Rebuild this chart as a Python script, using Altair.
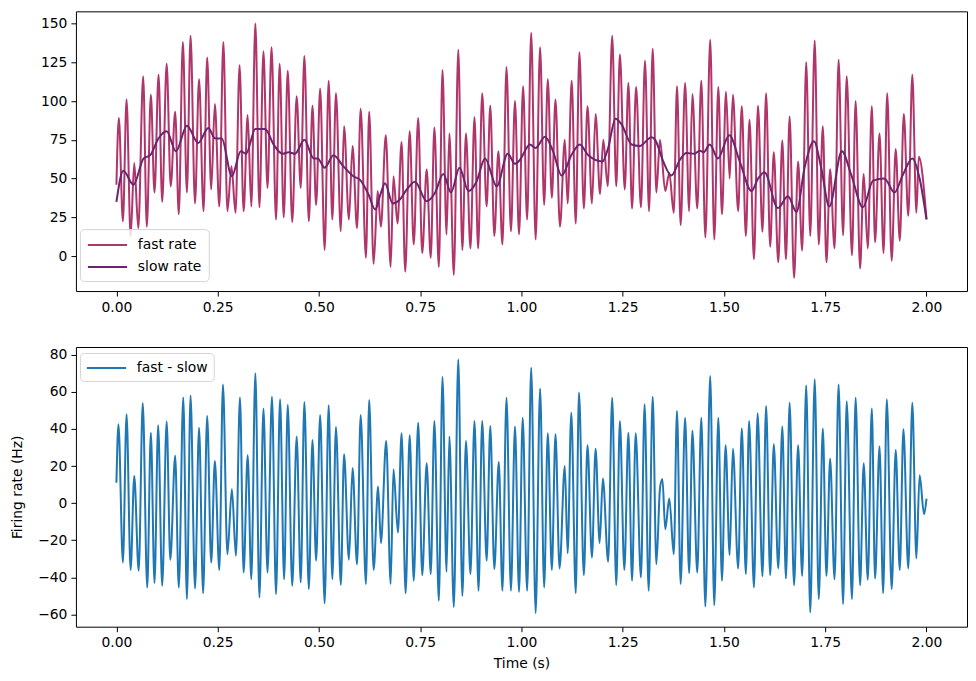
import altair as alt
import pandas as pd

# ---------------- data ----------------
fast_t = [0.000, 0.006, 0.016, 0.025, 0.035, 0.044, 0.054, 0.066, 0.075, 0.085, 0.094, 0.104, 0.113,
          0.124, 0.134, 0.145, 0.154, 0.164, 0.174, 0.183, 0.194, 0.204, 0.215, 0.224, 0.234, 0.243,
          0.254, 0.264, 0.274, 0.284, 0.294, 0.304, 0.314, 0.324,
          0.333, 0.343, 0.353, 0.363, 0.373, 0.383, 0.394, 0.403, 0.413, 0.423, 0.434, 0.445, 0.455,
          0.464, 0.475, 0.484, 0.493, 0.503, 0.514, 0.524, 0.533, 0.542, 0.554, 0.562, 0.574, 0.583,
          0.594, 0.603, 0.616, 0.624, 0.635, 0.645, 0.653, 0.665,
          0.677, 0.684, 0.694, 0.704, 0.713, 0.724, 0.734, 0.745, 0.755, 0.766, 0.776, 0.785, 0.796,
          0.805, 0.815, 0.822, 0.833, 0.844, 0.854, 0.863, 0.874, 0.884, 0.893, 0.903, 0.914, 0.923,
          0.933, 0.943, 0.953, 0.963, 0.974, 0.984, 0.994,
          1.004, 1.014, 1.024, 1.035, 1.046, 1.056, 1.065, 1.075, 1.084, 1.095, 1.107, 1.114, 1.124,
          1.134, 1.143, 1.154, 1.163, 1.174, 1.183, 1.194, 1.202, 1.213, 1.224, 1.234, 1.243, 1.255,
          1.264, 1.273, 1.283, 1.295, 1.305, 1.315, 1.324,
          1.333, 1.342, 1.355, 1.365, 1.376, 1.384, 1.393, 1.404, 1.414, 1.422, 1.434, 1.444, 1.454,
          1.466, 1.476, 1.486, 1.495, 1.505, 1.514, 1.522, 1.535, 1.544, 1.554, 1.563, 1.574, 1.584,
          1.595, 1.604, 1.614, 1.623, 1.634, 1.644, 1.653, 1.662,
          1.673, 1.683, 1.693, 1.703, 1.713, 1.724, 1.734, 1.744, 1.753, 1.762, 1.773, 1.783, 1.794,
          1.803, 1.816, 1.825, 1.836, 1.845, 1.855, 1.865, 1.873, 1.884, 1.894, 1.903, 1.914, 1.924,
          1.934, 1.944, 1.955, 1.965, 1.975, 1.981, 2.000]
fast_v = [46, 89, 22.5, 101, 13, 60, 18, 116, 19, 104, 41, 117, 35,
          124, 45, 93, 27, 138, 41, 142, 34, 114, 29, 128, 43, 98,
          32, 138, 29, 58, 28, 123, 29, 91,
          32, 150, 31.5, 132, 44, 134.6, 23.6, 124, 25, 119.5, 22, 103, 44,
          129, 22.5, 97, 33, 108, 4, 113, 23.6, 105, 16, 83.7, 23.6, 71,
          18, 95, -1, 93, -5, 42, 19, 78,
          -7, 51.5, 21, 73.6, -10, 80.5, 7.5, 89, 2, 56, -1, 83, -7,
          120, 14, 79, -12, 133, 4, 79, 5, 89.5, 5, 105, 32, 97,
          13, 67.6, 7.5, 122, 16, 100, 14,
          109.5, 23.6, 144, 10.7, 134.6, 33, 114, 37.6, 101, 19, 75, 34, 113,
          21, 131.5, 30.7, 96.6, 34, 91.6, 40, 75, 45, 142, 45, 130, 43,
          111.6, 30.7, 109, 31.5, 126, 29, 133.7,
          41, 75, 42, 53.6, 28, 109.5, 20, 111.6, 29, 104.5, 30.7, 113, 12,
          139.5, 10.7, 109, 27, 106, 50, 104, 29, 96.6, 13, 88, -2, 97,
          15.7, 105, 6, 67, -4, 74.5, -2, 90,
          -14, 61, 3.6, 125, 13, 139, 7.5, 83.7, -4, 56, 5, 126.6, 13.5,
          116, 0.6, 100, -8, 53, 5, 96.6, 9, 79, 2, 105, -3, 69,
          10, 91.6, 26, 117, 28, 64, 24]

slow_t = [0.000, 0.017, 0.042, 0.067, 0.083, 0.104, 0.124, 0.147, 0.174, 0.202, 0.227, 0.243, 0.260,
          0.285, 0.307, 0.320, 0.343, 0.367, 0.388, 0.410, 0.425, 0.441, 0.464, 0.487, 0.497, 0.514,
          0.536, 0.560, 0.585, 0.602, 0.622, 0.639, 0.652, 0.663, 0.682, 0.700, 0.717, 0.737, 0.766,
          0.787, 0.807, 0.826, 0.847, 0.869, 0.889, 0.910, 0.939, 0.966, 0.984, 0.996, 1.021, 1.035,
          1.058, 1.078, 1.099, 1.124, 1.144, 1.165, 1.200, 1.214, 1.232, 1.247, 1.272, 1.292, 1.321,
          1.330, 1.350, 1.370, 1.391, 1.407, 1.427, 1.440, 1.450, 1.465, 1.485, 1.513, 1.539, 1.568,
          1.584, 1.600, 1.633, 1.658, 1.679, 1.699, 1.722, 1.740, 1.760, 1.791, 1.814, 1.843, 1.868,
          1.896, 1.921, 1.942, 1.965, 1.983, 2.000]
slow_v = [35, 55, 46, 63, 65, 76, 80.5, 67.6, 84, 73, 82.6, 76, 75.8,
          51.5, 67.6, 66, 82, 82, 72, 66, 67, 66, 75, 63, 63, 57,
          65, 58, 51.5, 49, 40, 30, 40, 47, 34, 36.5, 43, 48, 35.4,
          41, 53, 41, 57, 42, 48, 63, 45, 66, 59.5, 62, 72, 69.7,
          77, 67.6, 52, 65.5, 72, 65, 61, 69.7, 88.6, 85, 72, 71, 76.6,
          75, 61, 52, 62, 66.5, 66, 68, 67, 72, 63, 78, 61, 42,
          50, 54, 31, 38.6, 28.5, 57, 74, 57, 32, 67.6, 52.6, 31.5, 48.7,
          50, 41, 52.6, 63, 50, 23.6]

diff_t = [0.000, 0.005, 0.016, 0.025, 0.035, 0.044, 0.055, 0.065, 0.076, 0.085, 0.094, 0.103, 0.113,
          0.124, 0.133, 0.145, 0.154, 0.165, 0.174, 0.183, 0.194, 0.204, 0.214, 0.224, 0.234, 0.243,
          0.254, 0.263, 0.274, 0.285, 0.295, 0.305, 0.314, 0.324,
          0.333, 0.343, 0.353, 0.363, 0.373, 0.384, 0.394, 0.404, 0.414, 0.423, 0.434, 0.445, 0.455,
          0.464, 0.475, 0.484, 0.493, 0.503, 0.514, 0.524, 0.533, 0.542, 0.554, 0.562, 0.574, 0.583,
          0.594, 0.603, 0.616, 0.624, 0.635, 0.646, 0.653, 0.666,
          0.677, 0.684, 0.695, 0.704, 0.714, 0.724, 0.734, 0.745, 0.755, 0.766, 0.776, 0.785, 0.796,
          0.805, 0.815, 0.822, 0.833, 0.844, 0.854, 0.863, 0.874, 0.884, 0.894, 0.903, 0.914, 0.923,
          0.933, 0.944, 0.953, 0.963, 0.974, 0.984, 0.994,
          1.003, 1.014, 1.024, 1.035, 1.046, 1.056, 1.065, 1.075, 1.084, 1.094, 1.107, 1.114, 1.123,
          1.134, 1.142, 1.154, 1.163, 1.174, 1.183, 1.193, 1.201, 1.214, 1.224, 1.234, 1.243, 1.254,
          1.264, 1.273, 1.282, 1.295, 1.304, 1.314, 1.324,
          1.333, 1.342, 1.348, 1.355, 1.365, 1.376, 1.384, 1.393, 1.404, 1.414, 1.422, 1.434, 1.444,
          1.454, 1.466, 1.476, 1.486, 1.495, 1.504, 1.514, 1.522, 1.535, 1.544, 1.554, 1.562, 1.574,
          1.583, 1.595, 1.604, 1.614, 1.623, 1.634, 1.644, 1.653, 1.662,
          1.673, 1.683, 1.693, 1.703, 1.713, 1.724, 1.734, 1.744, 1.753, 1.762, 1.773, 1.783, 1.794,
          1.803, 1.816, 1.825, 1.836, 1.845, 1.855, 1.865, 1.873, 1.884, 1.893, 1.902, 1.914, 1.924,
          1.934, 1.943, 1.955, 1.965, 1.975, 1.983, 1.994, 2.000]
diff_v = [11, 42.5, -32, 48, -36, 14.7, -36.5, 54, -45.5, 38, -43, 42, -44.5,
          44, -30.5, 25.5, -45.5, 57, -51.7, 58, -46, 40.7, -48.5, 47, -32, 22.8,
          -36, 64, -27.5, 7.5, -28.4, 57, -37.4, 25.8,
          -41, 70, -50.8, 51, -37.4, 57.4, -49, 56, -41, 53, -44.5, 36, -42.7,
          54.5, -46.3, 34, -31, 47.5, -54, 52.8, -41, 41, -44, 26.4, -30.5, 19,
          -33, 47.5, -43.6, 55.6, -36, 9, -21.5, 33.5,
          -43.6, 18.3, -15.8, 37.7, -48.5, 36.6, -41.8, 43.4, -38.8, 21.5, -38.2, 44.3, -52.6,
          68, -37, 36, -56, 77.5, -50, 33.5, -38.2, 44.3, -47.2, 44.3, -31, 41.6,
          -35.5, 22.2, -47.2, 56.9, -47.2, 41.3, -47.8,
          46, -47.2, 73, -59.2, 61.7, -45.4, 37.7, -36, 37.2, -35.2, 20, -27, 48.8,
          -48.5, 59.6, -38.8, 31.2, -29.3, 29.4, -21.5, 13.3, -31.6, 56.9, -44.2, 44.3, -36,
          38, -41.8, 37.7, -40, 53.3, -47.2, 57.4,
          -32.9, 8, 13, -14, 2.5, -27.5, 49.7, -43.6, 46, -37.7, 39, -37.4, 46,
          -55.7, 68.5, -55, 46, -41.8, 31.2, -28, 29.4, -35.2, 40.2, -38.2, 44.3, -45.4,
          48.5, -39.5, 52.4, -38.8, 31.8, -35.2, 41.3, -40.6, 54.2,
          -44.2, 31.2, -39.2, 63.5, -58.9, 66.8, -51.7, 40.2, -39.2, 24, -41, 64, -54.4,
          55, -51.7, 56.9, -44.2, 21.5, -41.3, 51, -40.6, 30.5, -48.5, 56, -46.3, 28.7,
          -36, 39.8, -35.2, 54.2, -29.8, 15, -6, 2.5]

series_top = ["fast rate", "slow rate"]
series_bottom = ["fast - slow"]
x_ticks = [0.0, 0.25, 0.5, 0.75, 1.0, 1.25, 1.5, 1.75, 2.0]
top_y_ticks = [0, 25, 50, 75, 100, 125, 150]
bottom_y_ticks = [-60, -40, -20, 0, 20, 40, 60, 80]

# ---------------- styling ----------------
FONT = "DejaVu Sans"
FS = 13.9
FAST = "#b0356b"
SLOW = "#6a2470"
BLUE = "#1f77b4"
MINUS = "\u2212"

fast_df = pd.DataFrame({"t": fast_t, "v": fast_v, "s": series_top[0]})
slow_df = pd.DataFrame({"t": slow_t, "v": slow_v, "s": series_top[1]})
diff_df = pd.DataFrame({"t": diff_t, "v": diff_v, "s": series_bottom[0]})

xscale = alt.Scale(domain=[-0.1, 2.1], nice=False, zero=False)


def make_legend(y, pad, rowpad=6):
    return alt.Legend(
        title=None, orient="none", legendX=4, legendY=y, direction="vertical",
        symbolType="M-1,0L3.9,0", symbolSize=256, symbolStrokeWidth=2,
        labelOffset=33, labelFont=FONT, labelFontSize=FS, labelColor="black",
        padding=pad, rowPadding=rowpad, fillColor="rgba(255,255,255,0.8)",
        strokeColor="#d4d4d4", cornerRadius=4,
    )


xaxis_top = alt.Axis(values=x_ticks, format=".2f", title=None)
xaxis_bot = alt.Axis(values=x_ticks, format=".2f", title="Time (s)",
                     titleY=37, titleBaseline="middle")

top_color = alt.Color("s:N", scale=alt.Scale(domain=series_top, range=[FAST, SLOW]),
                      legend=make_legend(218, 7))
top_y = alt.Y("v:Q", scale=alt.Scale(domain=[-22.5, 157.8], nice=False, zero=False),
              axis=alt.Axis(values=top_y_ticks, title=None))

fast_line = alt.Chart(fast_df).mark_line(strokeWidth=2, interpolate="monotone").encode(
    x=alt.X("t:Q", scale=xscale, axis=xaxis_top), y=top_y, color=top_color)
slow_line = alt.Chart(slow_df).mark_line(strokeWidth=2, interpolate="monotone").encode(
    x=alt.X("t:Q", scale=xscale, axis=xaxis_top), y=top_y, color=top_color)
top = alt.layer(fast_line, slow_line).properties(width=892, height=280)

bottom = alt.Chart(diff_df).mark_line(strokeWidth=2, interpolate="monotone").encode(
    x=alt.X("t:Q", scale=xscale, axis=xaxis_bot),
    y=alt.Y("v:Q", scale=alt.Scale(domain=[-66.6, 84.2], nice=False, zero=False),
            axis=alt.Axis(values=bottom_y_ticks, title="Firing rate (Hz)",
                          titleX=-58, titleY=140, titleBaseline="middle",
                          labelExpr="replace(datum.label, '-', '" + MINUS + "')")),
    color=alt.Color("s:N", scale=alt.Scale(domain=series_bottom, range=[BLUE]),
                    legend=make_legend(6, 6)),
).properties(width=892, height=280)

chart = alt.vconcat(top, bottom, spacing=56, bounds="flush").resolve_scale(
    color="independent"
).resolve_legend(
    color="independent"
).properties(
    padding={"left": 2, "top": 2, "right": 0, "bottom": 0}
).configure_axis(
    domain=False, grid=False, tickColor="black", tickSize=5, tickWidth=1,
    labelFont=FONT, labelFontSize=FS, labelColor="black", labelPadding=4,
    titleFont=FONT, titleFontSize=FS, titleColor="black", titleFontWeight="normal",
).configure_view(stroke="black", strokeWidth=1)

chart.save("out.html", embed_options={"renderer": "svg", "actions": False})
